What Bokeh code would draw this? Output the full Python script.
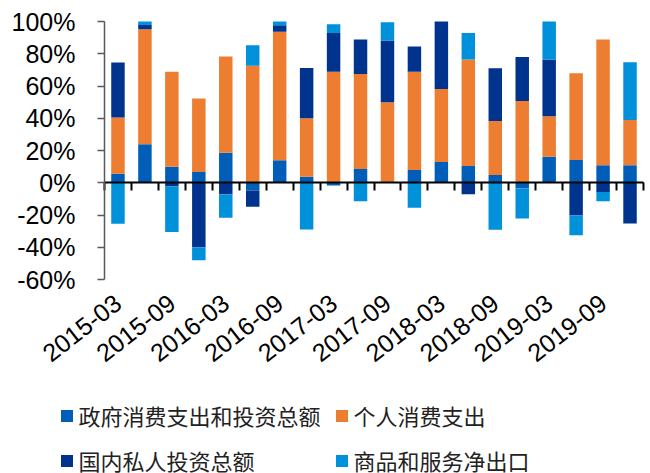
import numpy as np
from math import pi
from bokeh.plotting import figure
from bokeh.models import ColumnDataSource, Range1d, FixedTicker, LinearAxis, Legend, LegendItem
from bokeh.embed import file_html
from bokeh.resources import INLINE

quarters = ["2015-03", "2015-06", "2015-09", "2015-12", "2016-03", "2016-06", "2016-09", "2016-12",
            "2017-03", "2017-06", "2017-09", "2017-12", "2018-03", "2018-06", "2018-09", "2018-12",
            "2019-03", "2019-06", "2019-09", "2019-12"]
series_names = ["政府消费支出和投资总额", "个人消费支出", "国内私人投资总额", "商品和服务净出口"]
gov = [5.6, 23.8, 9.9, 6.6, 18.6, -4.8, 13.9, 3.7, -1.7, 8.5, 0.0, 7.9, 12.8, 10.4, 4.8, -3.5, 16.1, 14.1, 10.8, 10.8]
personal = [34.8, 71.4, 59.0, 45.6, 59.7, 72.5, 79.7, 36.3, 68.9, 59.0, 49.9, 61.0, 45.4, 66.0, 33.5, 50.7, 25.1, 53.8, 78.0, 28.1]
private = [34.1, 2.7, -2.1, -40.0, -7.2, -10.1, 4.1, 31.2, 23.9, 21.3, 38.3, 15.6, 41.8, -7.2, 32.7, 27.3, 35.2, -20.3, -5.8, -25.3]
net_exports = [-25.5, 2.1, -28.5, -8.0, -14.5, 12.8, 2.3, -29.0, 5.5, -11.4, 11.4, -15.5, 0.0, 16.4, -29.2, -18.7, 23.6, -12.2, -5.6, 35.8]
y_ticks = [-60, -40, -20, 0, 20, 40, 60, 80, 100]
y_tick_labels = ["-60%", "-40%", "-20%", "0%", "20%", "40%", "60%", "80%", "100%"]
x_tick_labels = quarters[::2]

colors = ["#005EB8", "#ED7D31", "#00338D", "#0091DA"]

n = len(quarters)
xs = np.arange(1, n + 1)
y_lo, y_hi = y_ticks[0], y_ticks[-1]

# layout (pixels): the frame covers the whole canvas, the bar area sits inside it
W, H = 648, 473
bars_left, bars_right, bars_top, bars_bottom = 104, 643, 21, 279
px_x = (bars_right - bars_left) / n
px_y = (bars_bottom - bars_top) / (y_hi - y_lo)
x_start = 0.5 - bars_left / px_x
x_end = n + 0.5 + (W - bars_right) / px_x
y_start = y_lo - (H - bars_bottom) / px_y
y_end = y_hi + bars_top / px_y

p = figure(width=W, height=H, output_backend="svg", toolbar_location=None,
           x_range=Range1d(x_start, x_end), y_range=Range1d(y_start, y_end),
           min_border_left=0, min_border_right=0, min_border_top=0, min_border_bottom=0,
           background_fill_color="white", border_fill_color="white")
p.xgrid.visible = False
p.ygrid.visible = False
p.outline_line_color = None

pos_base = np.zeros(n)
neg_base = np.zeros(n)
renderers = []
for name, vals, col in zip(series_names, [gov, personal, private, net_exports], colors):
    v = np.array(vals, dtype=float)
    bottom = np.where(v >= 0, pos_base, neg_base)
    top = bottom + v
    pos_base = np.where(v >= 0, pos_base + v, pos_base)
    neg_base = np.where(v < 0, neg_base + v, neg_base)
    src = ColumnDataSource(dict(x=xs, bottom=bottom, top=top))
    r = p.vbar(x="x", bottom="bottom", top="top", width=0.5, source=src,
               fill_color=col, line_color=None)
    renderers.append(r)

# y axis
ya = p.yaxis[0]
ya.fixed_location = 0.5
ya.bounds = (y_lo, y_hi)
ya.ticker = FixedTicker(ticks=y_ticks)
ya.major_label_overrides = {t: l for t, l in zip(y_ticks, y_tick_labels)}
ya.major_label_text_font = "Liberation Sans"
ya.major_label_text_font_size = "25px"
ya.major_label_text_color = "black"
ya.axis_line_color = "#595959"
ya.axis_line_width = 1.5
ya.major_tick_line_color = "#595959"
ya.major_tick_line_width = 1.5
ya.major_tick_out = 7
ya.major_tick_in = 0
ya.minor_tick_line_color = None
ya.major_label_standoff = 22

# category labels axis at the bottom of the bar area
xa = p.xaxis[0]
xa.fixed_location = y_lo
xa.ticker = FixedTicker(ticks=list(xs[::2]))
xa.major_label_overrides = {int(t): l for t, l in zip(xs[::2], x_tick_labels)}
xa.major_label_orientation = 38 * pi / 180
xa.major_label_text_font = "Liberation Sans"
xa.major_label_text_font_size = "25px"
xa.major_label_text_color = "black"
xa.axis_line_color = None
xa.major_tick_line_color = None
xa.minor_tick_line_color = None
xa.major_tick_out = 0
xa.major_tick_in = 0
xa.major_label_standoff = 20

# zero line axis with category boundary ticks
bounds = list(np.arange(0.5, n + 1, 1.0))
zero_axis = LinearAxis(fixed_location=0, bounds=(0.5, n + 0.5),
                       ticker=FixedTicker(ticks=bounds),
                       major_label_overrides={b: "" for b in bounds},
                       axis_line_color="black", axis_line_width=2,
                       major_tick_line_color="black", major_tick_line_width=2,
                       major_tick_out=8, major_tick_in=0,
                       minor_tick_line_color=None)
p.add_layout(zero_axis, "below")

items = [LegendItem(label=nm, renderers=[r]) for nm, r in zip(series_names, renderers)]
legend = Legend(items=items, location=(58.5, -3), ncols=2, orientation="horizontal",
                label_text_font="Noto Sans CJK SC", label_text_font_size="22px",
                label_text_color="#222222",
                glyph_width=15, glyph_height=15, label_standoff=5, spacing=13,
                padding=0, margin=0, border_line_color=None, background_fill_alpha=0)
p.add_layout(legend, "center")

open("out.html", "w").write(file_html(p, INLINE))
